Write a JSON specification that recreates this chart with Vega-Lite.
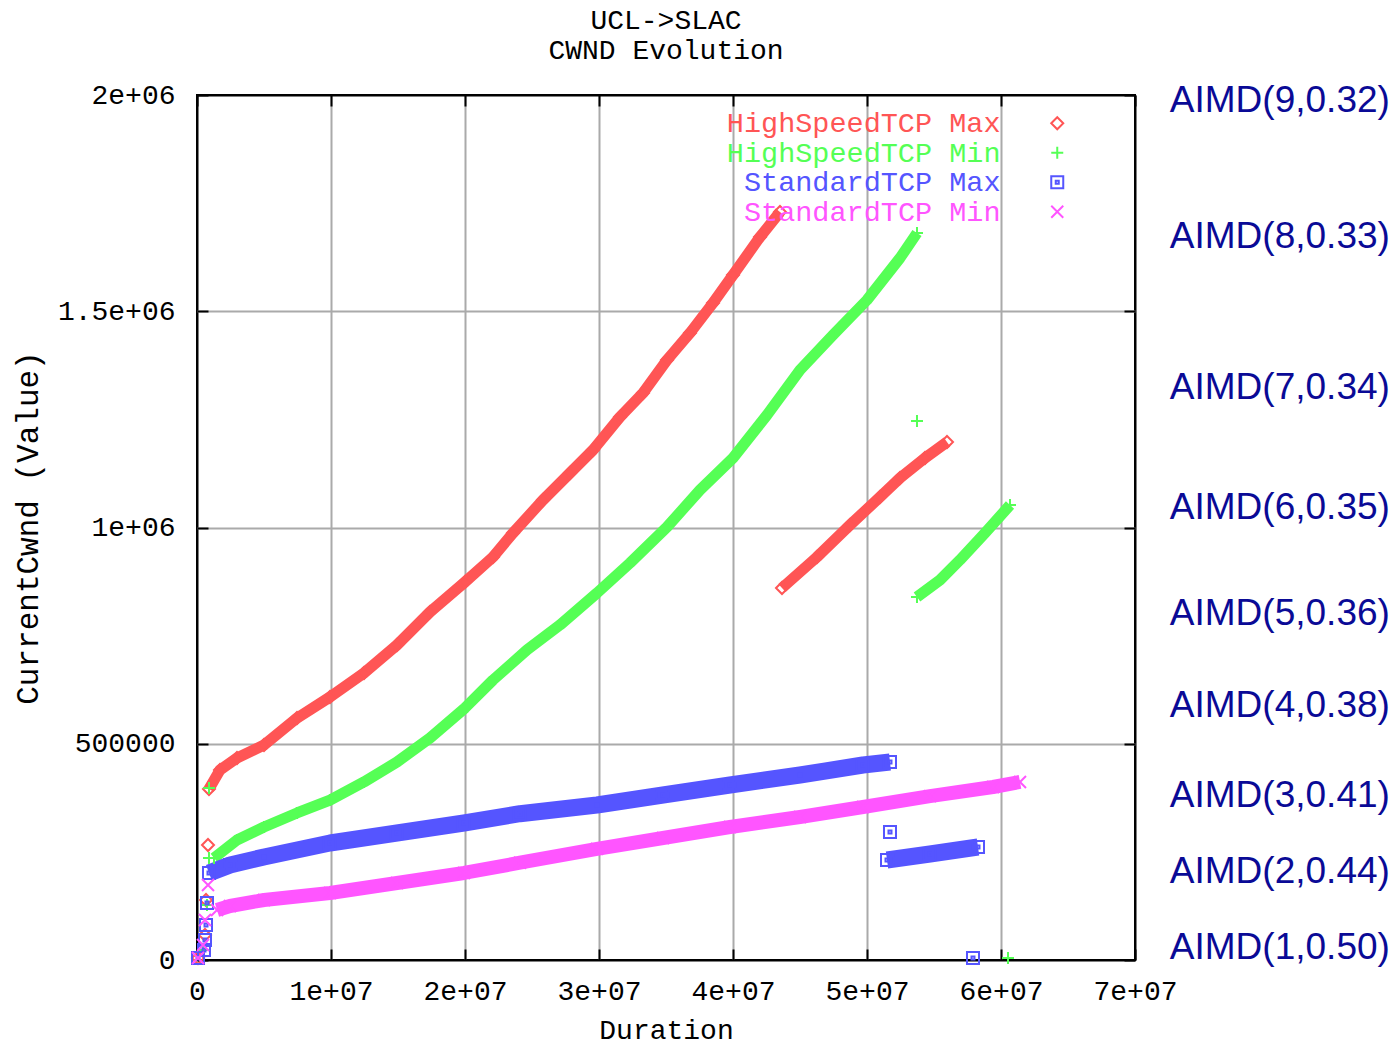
{
  "$schema": "https://vega.github.io/schema/vega-lite/v6.json",
  "width": 938,
  "height": 865,
  "autosize": {"type": "none"},
  "padding": {"left": 197, "top": 95, "right": 262, "bottom": 85},
  "background": "white",
  "title": {
    "text": ["UCL->SLAC", "CWND Evolution"],
    "font": "Liberation Mono",
    "fontSize": 28,
    "fontWeight": "normal",
    "lineHeight": 30,
    "color": "black",
    "offset": 16,
    "anchor": "middle"
  },
  "config": {
    "view": {"stroke": "black", "strokeWidth": 2},
    "axis": {
      "labelFont": "Liberation Mono",
      "labelFontSize": 28,
      "labelColor": "black",
      "titleFont": "Liberation Mono",
      "titleFontSize": 28,
      "titleFontWeight": "normal",
      "titleColor": "black",
      "gridWidth": 2,
      "gridOpacity": 1,
      "tickColor": "black",
      "tickWidth": 2,
      "tickSize": -11,
      "domain": false,
      "labelOverlap": false,
      "labelFlush": false
    },
    "legend": {
      "orient": "none",
      "legendX": 846,
      "legendY": 14,
      "title": null,
      "padding": 0,
      "labelFont": "Liberation Mono",
      "labelFontSize": 28.5,
      "labelAlign": "right",
      "labelBaseline": "middle",
      "labelOffset": -71,
      "labelLimit": 0,
      "rowPadding": 0.5,
      "symbolSize": 144,
      "symbolStrokeWidth": 2
    }
  },
  "datasets": {
    "tcp": [
      {"series": "HighSpeedTCP Max", "seg": "a", "duration": 895000, "cwnd": 395400},
      {"series": "HighSpeedTCP Max", "seg": "a", "duration": 1716000, "cwnd": 439300},
      {"series": "HighSpeedTCP Max", "seg": "a", "duration": 2985000, "cwnd": 467100},
      {"series": "HighSpeedTCP Max", "seg": "a", "duration": 5000000, "cwnd": 497100},
      {"series": "HighSpeedTCP Max", "seg": "a", "duration": 7463000, "cwnd": 559500},
      {"series": "HighSpeedTCP Max", "seg": "a", "duration": 9925000, "cwnd": 608100},
      {"series": "HighSpeedTCP Max", "seg": "a", "duration": 12463000, "cwnd": 663600},
      {"series": "HighSpeedTCP Max", "seg": "a", "duration": 14925000, "cwnd": 728300},
      {"series": "HighSpeedTCP Max", "seg": "a", "duration": 17388000, "cwnd": 804600},
      {"series": "HighSpeedTCP Max", "seg": "a", "duration": 20000000, "cwnd": 874000},
      {"series": "HighSpeedTCP Max", "seg": "a", "duration": 22090000, "cwnd": 931800},
      {"series": "HighSpeedTCP Max", "seg": "a", "duration": 23582000, "cwnd": 987300},
      {"series": "HighSpeedTCP Max", "seg": "a", "duration": 25821000, "cwnd": 1063600},
      {"series": "HighSpeedTCP Max", "seg": "a", "duration": 27836000, "cwnd": 1126000},
      {"series": "HighSpeedTCP Max", "seg": "a", "duration": 29552000, "cwnd": 1179200},
      {"series": "HighSpeedTCP Max", "seg": "a", "duration": 31567000, "cwnd": 1255500},
      {"series": "HighSpeedTCP Max", "seg": "a", "duration": 33284000, "cwnd": 1311000},
      {"series": "HighSpeedTCP Max", "seg": "a", "duration": 35075000, "cwnd": 1387300},
      {"series": "HighSpeedTCP Max", "seg": "a", "duration": 36791000, "cwnd": 1449700},
      {"series": "HighSpeedTCP Max", "seg": "a", "duration": 38507000, "cwnd": 1519100},
      {"series": "HighSpeedTCP Max", "seg": "a", "duration": 40000000, "cwnd": 1583800},
      {"series": "HighSpeedTCP Max", "seg": "a", "duration": 42015000, "cwnd": 1671700},
      {"series": "HighSpeedTCP Max", "seg": "a", "duration": 43507000, "cwnd": 1729500},
      {"series": "HighSpeedTCP Max", "seg": "b", "duration": 43657000, "cwnd": 860100},
      {"series": "HighSpeedTCP Max", "seg": "b", "duration": 46269000, "cwnd": 931800},
      {"series": "HighSpeedTCP Max", "seg": "b", "duration": 48731000, "cwnd": 1005800},
      {"series": "HighSpeedTCP Max", "seg": "b", "duration": 50970000, "cwnd": 1070500},
      {"series": "HighSpeedTCP Max", "seg": "b", "duration": 52463000, "cwnd": 1114500},
      {"series": "HighSpeedTCP Max", "seg": "b", "duration": 54328000, "cwnd": 1160700},
      {"series": "HighSpeedTCP Max", "seg": "b", "duration": 55970000, "cwnd": 1197700},
      {"series": "HighSpeedTCP Max", "seg": "pt", "duration": 821000, "cwnd": 265900},
      {"series": "HighSpeedTCP Max", "seg": "pt", "duration": 672000, "cwnd": 138700},
      {"series": "HighSpeedTCP Max", "seg": "pt", "duration": 597000, "cwnd": 57800},
      {"series": "HighSpeedTCP Max", "seg": "pt", "duration": 75000, "cwnd": 4600},

      {"series": "HighSpeedTCP Min", "seg": "a", "duration": 1269000, "cwnd": 235800},
      {"series": "HighSpeedTCP Min", "seg": "a", "duration": 2985000, "cwnd": 277500},
      {"series": "HighSpeedTCP Min", "seg": "a", "duration": 5000000, "cwnd": 307500},
      {"series": "HighSpeedTCP Min", "seg": "a", "duration": 7463000, "cwnd": 339900},
      {"series": "HighSpeedTCP Min", "seg": "a", "duration": 9925000, "cwnd": 369900},
      {"series": "HighSpeedTCP Min", "seg": "a", "duration": 12463000, "cwnd": 411600},
      {"series": "HighSpeedTCP Min", "seg": "a", "duration": 14925000, "cwnd": 457800},
      {"series": "HighSpeedTCP Min", "seg": "a", "duration": 17388000, "cwnd": 513300},
      {"series": "HighSpeedTCP Min", "seg": "a", "duration": 20000000, "cwnd": 582700},
      {"series": "HighSpeedTCP Min", "seg": "a", "duration": 22090000, "cwnd": 647400},
      {"series": "HighSpeedTCP Min", "seg": "a", "duration": 24627000, "cwnd": 716800},
      {"series": "HighSpeedTCP Min", "seg": "a", "duration": 27090000, "cwnd": 774600},
      {"series": "HighSpeedTCP Min", "seg": "a", "duration": 29851000, "cwnd": 848600},
      {"series": "HighSpeedTCP Min", "seg": "a", "duration": 32313000, "cwnd": 917900},
      {"series": "HighSpeedTCP Min", "seg": "a", "duration": 35075000, "cwnd": 1001200},
      {"series": "HighSpeedTCP Min", "seg": "a", "duration": 37537000, "cwnd": 1086700},
      {"series": "HighSpeedTCP Min", "seg": "a", "duration": 40000000, "cwnd": 1160700},
      {"series": "HighSpeedTCP Min", "seg": "a", "duration": 42537000, "cwnd": 1260100},
      {"series": "HighSpeedTCP Min", "seg": "a", "duration": 45000000, "cwnd": 1364200},
      {"series": "HighSpeedTCP Min", "seg": "a", "duration": 47463000, "cwnd": 1445100},
      {"series": "HighSpeedTCP Min", "seg": "a", "duration": 50000000, "cwnd": 1526000},
      {"series": "HighSpeedTCP Min", "seg": "a", "duration": 52463000, "cwnd": 1623100},
      {"series": "HighSpeedTCP Min", "seg": "a", "duration": 53731000, "cwnd": 1680900},
      {"series": "HighSpeedTCP Min", "seg": "b", "duration": 53731000, "cwnd": 839300},
      {"series": "HighSpeedTCP Min", "seg": "b", "duration": 55448000, "cwnd": 878600},
      {"series": "HighSpeedTCP Min", "seg": "b", "duration": 56940000, "cwnd": 924900},
      {"series": "HighSpeedTCP Min", "seg": "b", "duration": 58806000, "cwnd": 987300},
      {"series": "HighSpeedTCP Min", "seg": "b", "duration": 60672000, "cwnd": 1052000},
      {"series": "HighSpeedTCP Min", "seg": "pt", "duration": 895000, "cwnd": 397700},
      {"series": "HighSpeedTCP Min", "seg": "pt", "duration": 895000, "cwnd": 235800},
      {"series": "HighSpeedTCP Min", "seg": "pt", "duration": 53731000, "cwnd": 1246200},
      {"series": "HighSpeedTCP Min", "seg": "pt", "duration": 60522000, "cwnd": 4600},
      {"series": "HighSpeedTCP Min", "seg": "pt", "duration": 746000, "cwnd": 127200},
      {"series": "HighSpeedTCP Min", "seg": "pt", "duration": 448000, "cwnd": 23100},

      {"series": "StandardTCP Max", "seg": "a", "duration": 895000, "cwnd": 201200},
      {"series": "StandardTCP Max", "seg": "a", "duration": 2463000, "cwnd": 219700},
      {"series": "StandardTCP Max", "seg": "a", "duration": 5000000, "cwnd": 238200},
      {"series": "StandardTCP Max", "seg": "a", "duration": 9925000, "cwnd": 270500},
      {"series": "StandardTCP Max", "seg": "a", "duration": 14925000, "cwnd": 293600},
      {"series": "StandardTCP Max", "seg": "a", "duration": 19925000, "cwnd": 316800},
      {"series": "StandardTCP Max", "seg": "a", "duration": 24104000, "cwnd": 338200},
      {"series": "StandardTCP Max", "seg": "a", "duration": 29851000, "cwnd": 358400},
      {"series": "StandardTCP Max", "seg": "a", "duration": 34776000, "cwnd": 381500},
      {"series": "StandardTCP Max", "seg": "a", "duration": 39776000, "cwnd": 404600},
      {"series": "StandardTCP Max", "seg": "a", "duration": 45000000, "cwnd": 427700},
      {"series": "StandardTCP Max", "seg": "a", "duration": 49701000, "cwnd": 450900},
      {"series": "StandardTCP Max", "seg": "a", "duration": 51716000, "cwnd": 457800},
      {"series": "StandardTCP Max", "seg": "b", "duration": 51493000, "cwnd": 231200},
      {"series": "StandardTCP Max", "seg": "b", "duration": 54701000, "cwnd": 245100},
      {"series": "StandardTCP Max", "seg": "b", "duration": 58284000, "cwnd": 261300},
      {"series": "StandardTCP Max", "seg": "pt", "duration": 51716000, "cwnd": 296000},
      {"series": "StandardTCP Max", "seg": "pt", "duration": 57910000, "cwnd": 4600},
      {"series": "StandardTCP Max", "seg": "pt", "duration": 746000, "cwnd": 131800},
      {"series": "StandardTCP Max", "seg": "pt", "duration": 672000, "cwnd": 80900},
      {"series": "StandardTCP Max", "seg": "pt", "duration": 597000, "cwnd": 46200},
      {"series": "StandardTCP Max", "seg": "pt", "duration": 522000, "cwnd": 23100},
      {"series": "StandardTCP Max", "seg": "pt", "duration": 75000, "cwnd": 4600},

      {"series": "StandardTCP Min", "seg": "a", "duration": 1493000, "cwnd": 115600},
      {"series": "StandardTCP Min", "seg": "a", "duration": 2463000, "cwnd": 124900},
      {"series": "StandardTCP Min", "seg": "a", "duration": 5000000, "cwnd": 138700},
      {"series": "StandardTCP Min", "seg": "a", "duration": 9925000, "cwnd": 154900},
      {"series": "StandardTCP Min", "seg": "a", "duration": 14925000, "cwnd": 178000},
      {"series": "StandardTCP Min", "seg": "a", "duration": 19925000, "cwnd": 201200},
      {"series": "StandardTCP Min", "seg": "a", "duration": 24104000, "cwnd": 225000},
      {"series": "StandardTCP Min", "seg": "a", "duration": 29851000, "cwnd": 257000},
      {"series": "StandardTCP Min", "seg": "a", "duration": 34776000, "cwnd": 282100},
      {"series": "StandardTCP Min", "seg": "a", "duration": 39776000, "cwnd": 307500},
      {"series": "StandardTCP Min", "seg": "a", "duration": 45000000, "cwnd": 330600},
      {"series": "StandardTCP Min", "seg": "a", "duration": 49701000, "cwnd": 353800},
      {"series": "StandardTCP Min", "seg": "a", "duration": 54701000, "cwnd": 379000},
      {"series": "StandardTCP Min", "seg": "a", "duration": 59403000, "cwnd": 400000},
      {"series": "StandardTCP Min", "seg": "a", "duration": 61418000, "cwnd": 411600},
      {"series": "StandardTCP Min", "seg": "pt", "duration": 821000, "cwnd": 173400},
      {"series": "StandardTCP Min", "seg": "pt", "duration": 597000, "cwnd": 92500},
      {"series": "StandardTCP Min", "seg": "pt", "duration": 448000, "cwnd": 34700},
      {"series": "StandardTCP Min", "seg": "pt", "duration": 75000, "cwnd": 4600}
    ],
    "aimd": [
      {"label": "AIMD(9,0.32)", "cwnd": 1986000},
      {"label": "AIMD(8,0.33)", "cwnd": 1672000},
      {"label": "AIMD(7,0.34)", "cwnd": 1322500},
      {"label": "AIMD(6,0.35)", "cwnd": 1045000},
      {"label": "AIMD(5,0.36)", "cwnd": 800000},
      {"label": "AIMD(4,0.38)", "cwnd": 587000},
      {"label": "AIMD(3,0.41)", "cwnd": 379000},
      {"label": "AIMD(2,0.44)", "cwnd": 203500},
      {"label": "AIMD(1,0.50)", "cwnd": 27700}
    ]
  },
  "layer": [
    {
      "data": {"name": "tcp"},
      "transform": [{"filter": "datum.seg != 'pt' && datum.series == 'HighSpeedTCP Max'"}],
      "mark": {"type": "line", "strokeWidth": 11, "strokeJoin": "round", "color": "#ff5555"},
      "encoding": {
        "x": {
          "field": "duration", "type": "quantitative",
          "scale": {"domain": [0, 70000000], "nice": false, "zero": false},
          "axis": {
            "orient": "bottom",
            "values": [0, 10000000, 20000000, 30000000, 40000000, 50000000, 60000000, 70000000],
            "labelExpr": "datum.value == 0 ? '0' : (datum.value / 10000000) + 'e+07'",
            "labelPadding": 28,
            "title": "Duration",
            "titlePadding": 11,
            "grid": true,
            "gridColor": {"condition": {"test": "datum.value == 0 || datum.value == 70000000", "value": "black"}, "value": "#aaaaaa"}
          }
        },
        "y": {
          "field": "cwnd", "type": "quantitative",
          "scale": {"domain": [0, 2000000], "nice": false, "zero": false},
          "axis": {
            "orient": "left",
            "values": [0, 500000, 1000000, 1500000, 2000000],
            "labelExpr": "datum.value == 0 ? '0' : datum.value < 1000000 ? format(datum.value, 'd') : (datum.value / 1000000) + 'e+06'",
            "labelPadding": 33,
            "title": "CurrentCwnd (Value)",
            "titleFontSize": 31,
            "titlePadding": 13,
            "grid": true,
            "gridColor": {"condition": {"test": "datum.value == 0 || datum.value == 2000000", "value": "black"}, "value": "#aaaaaa"}
          }
        },
        "detail": {"field": "seg", "type": "nominal"},
        "order": {"field": "duration", "type": "quantitative"}
      }
    },
    {
      "data": {"name": "tcp"},
      "transform": [{"filter": "datum.seg != 'pt' && datum.series == 'HighSpeedTCP Min'"}],
      "mark": {"type": "line", "strokeWidth": 11, "strokeJoin": "round", "color": "#55ff55"},
      "encoding": {
        "x": {"field": "duration", "type": "quantitative", "scale": {"domain": [0, 70000000], "nice": false, "zero": false}, "axis": null},
        "y": {"field": "cwnd", "type": "quantitative", "scale": {"domain": [0, 2000000], "nice": false, "zero": false}, "axis": null},
        "detail": {"field": "seg", "type": "nominal"},
        "order": {"field": "duration", "type": "quantitative"}
      }
    },
    {
      "data": {"name": "tcp"},
      "transform": [{"filter": "datum.seg != 'pt' && datum.series == 'StandardTCP Max'"}],
      "mark": {"type": "line", "strokeWidth": 17, "strokeJoin": "round", "color": "#5555ff"},
      "encoding": {
        "x": {"field": "duration", "type": "quantitative", "scale": {"domain": [0, 70000000], "nice": false, "zero": false}, "axis": null},
        "y": {"field": "cwnd", "type": "quantitative", "scale": {"domain": [0, 2000000], "nice": false, "zero": false}, "axis": null},
        "detail": {"field": "seg", "type": "nominal"},
        "order": {"field": "duration", "type": "quantitative"}
      }
    },
    {
      "data": {"name": "tcp"},
      "transform": [{"filter": "datum.seg != 'pt' && datum.series == 'StandardTCP Min'"}],
      "mark": {"type": "line", "strokeWidth": 14, "strokeJoin": "round", "color": "#ff55ff"},
      "encoding": {
        "x": {"field": "duration", "type": "quantitative", "scale": {"domain": [0, 70000000], "nice": false, "zero": false}, "axis": null},
        "y": {"field": "cwnd", "type": "quantitative", "scale": {"domain": [0, 2000000], "nice": false, "zero": false}, "axis": null},
        "detail": {"field": "seg", "type": "nominal"},
        "order": {"field": "duration", "type": "quantitative"}
      }
    },
    {
      "data": {"name": "tcp"},
      "mark": {"type": "point", "filled": false, "strokeWidth": 2, "size": 144, "opacity": 1},
      "encoding": {
        "x": {"field": "duration", "type": "quantitative", "scale": {"domain": [0, 70000000], "nice": false, "zero": false}, "axis": null},
        "y": {"field": "cwnd", "type": "quantitative", "scale": {"domain": [0, 2000000], "nice": false, "zero": false}, "axis": null},
        "color": {
          "field": "series", "type": "nominal",
          "scale": {"domain": ["HighSpeedTCP Max", "HighSpeedTCP Min", "StandardTCP Max", "StandardTCP Min"], "range": ["#ff5555", "#55ff55", "#5555ff", "#ff55ff"]},
          "legend": {"labelColor": {"expr": "scale('color', datum.value)"}}
        },
        "shape": {
          "field": "series", "type": "nominal",
          "scale": {
            "domain": ["HighSpeedTCP Max", "HighSpeedTCP Min", "StandardTCP Max", "StandardTCP Min"],
            "range": ["diamond", "M-1,0H1M0,-1V1", "M-1,-1H1V1H-1ZM-0.25,-0.25H0.25V0.25H-0.25Z", "M-1,-1L1,1M-1,1L1,-1"]
          }
        }
      }
    },
    {
      "data": {"name": "aimd"},
      "mark": {"type": "text", "align": "left", "baseline": "middle", "font": "Liberation Sans", "fontSize": 37, "color": "#0a0a96"},
      "encoding": {
        "x": {
          "datum": 72600000, "type": "quantitative",
          "scale": {"domain": [0, 70000000], "nice": false, "zero": false},
          "axis": {"orient": "top", "labels": false, "grid": false, "title": null, "values": [0, 10000000, 20000000, 30000000, 40000000, 50000000, 60000000, 70000000]}
        },
        "y": {
          "field": "cwnd", "type": "quantitative",
          "scale": {"domain": [0, 2000000], "nice": false, "zero": false},
          "axis": {"orient": "right", "labels": false, "grid": false, "title": null, "values": [0, 500000, 1000000, 1500000, 2000000]}
        },
        "text": {"field": "label", "type": "nominal"}
      }
    }
  ]
}
